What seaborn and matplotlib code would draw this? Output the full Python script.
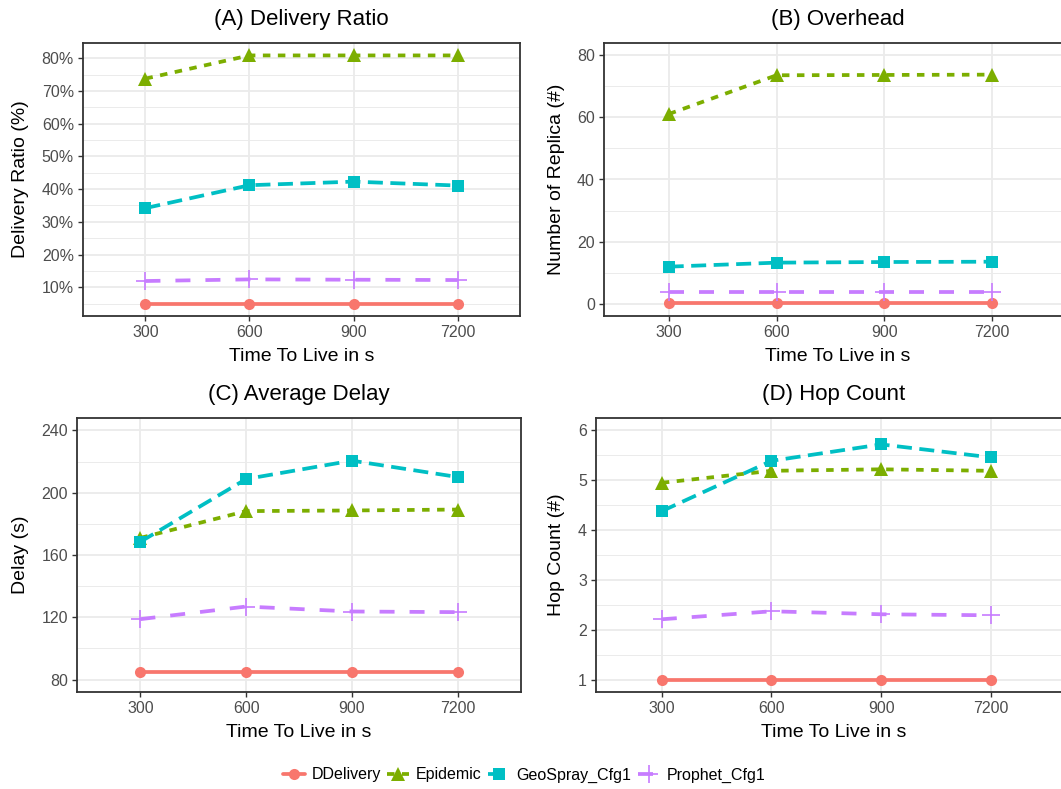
import numpy as np
import pandas as pd
import matplotlib
matplotlib.use("Agg")
import matplotlib.pyplot as plt
import seaborn as sns
from matplotlib.ticker import MultipleLocator, PercentFormatter

# values
TTL = ["300", "600", "900", "7200"]
PROTOCOLS = ["DDelivery", "Epidemic", "GeoSpray_Cfg1", "Prophet_Cfg1"]

delivery_ratio = {
    "DDelivery": [5.0, 5.0, 5.0, 5.0],
    "Epidemic": [73.8, 80.9, 80.9, 80.9],
    "GeoSpray_Cfg1": [34.2, 41.2, 42.3, 41.1],
    "Prophet_Cfg1": [11.9, 12.4, 12.3, 12.2],
}
overhead = {
    "DDelivery": [0.2, 0.2, 0.2, 0.2],
    "Epidemic": [61.1, 73.6, 73.7, 73.8],
    "GeoSpray_Cfg1": [11.9, 13.2, 13.4, 13.5],
    "Prophet_Cfg1": [3.8, 3.8, 3.8, 3.8],
}
avg_delay = {
    "DDelivery": [84.8, 84.8, 84.8, 84.8],
    "Epidemic": [171.0, 188.2, 188.6, 189.2],
    "GeoSpray_Cfg1": [168.5, 208.8, 220.6, 210.1],
    "Prophet_Cfg1": [118.8, 126.9, 123.7, 123.3],
}
hop_count = {
    "DDelivery": [1.0, 1.0, 1.0, 1.0],
    "Epidemic": [4.95, 5.19, 5.22, 5.19],
    "GeoSpray_Cfg1": [4.38, 5.39, 5.72, 5.46],
    "Prophet_Cfg1": [2.21, 2.37, 2.31, 2.29],
}

COLORS = {"DDelivery": "#F8766D", "Epidemic": "#7CAE00",
          "GeoSpray_Cfg1": "#00BFC4", "Prophet_Cfg1": "#C77CFF"}
# seaborn refuses to mix filled and line-art markers, so Prophet gets "X"
# here and is switched to a thin "+" after drawing
MARKERS = {"DDelivery": "o", "Epidemic": "^",
           "GeoSpray_Cfg1": "s", "Prophet_Cfg1": "X"}
DASHES = {"DDelivery": "", "Epidemic": (2, 2),
          "GeoSpray_Cfg1": (4, 2), "Prophet_Cfg1": (4, 4)}
MSIZE = {"o": 8, "^": 10, "s": 9, "+": 12.5}


def to_long(values):
    rows = []
    for proto in PROTOCOLS:
        for i, v in enumerate(values[proto]):
            rows.append({"pos": i, "value": v, "Protocol": proto})
    return pd.DataFrame(rows)


def restyle(line):
    m = line.get_marker()
    if m == "X":
        m = "+"
        line.set_marker("+")
    if m in MSIZE:
        line.set_markersize(MSIZE[m])
        line.set_markeredgecolor(line.get_color())
        line.set_markerfacecolor(line.get_color())
        line.set_markeredgewidth(1.2 if m == "+" else 0)


sns.set_theme(style="ticks")
plt.rcParams["font.family"] = ["Liberation Sans", "DejaVu Sans"]

W, H = 1061, 789
fig = plt.figure(figsize=(W / 100, H / 100), dpi=100)


def px_axes(left, top, right, bottom):
    return fig.add_axes([left / W, 1 - bottom / H, (right - left) / W, (bottom - top) / H])


panels = [
    # data, title, ylabel, box(px), xmax, ylim, major, minor
    (delivery_ratio, "(A) Delivery Ratio", "Delivery Ratio (%)", (83, 43, 520, 316), 3.6, (1.2, 84.7), 10, 5),
    (overhead, "(B) Overhead", "Number of Replica (#)", (604, 43, 1072, 316), 3.74, (-4, 84), 20, 10),
    (avg_delay, "(C) Average Delay", "Delay (s)", (77, 418, 521, 692), 3.6, (72, 248), 40, 20),
    (hop_count, "(D) Hop Count", "Hop Count (#)", (596, 418, 1072, 692), 3.74, (0.75, 6.25), 1, 0.5),
]

handles, labels = None, None
for k, (data, title, ylabel, box, xmax, ylim, major, minor) in enumerate(panels):
    ax = px_axes(*box)
    df = to_long(data)
    sns.lineplot(data=df, x="pos", y="value", hue="Protocol", style="Protocol",
                 hue_order=PROTOCOLS, style_order=PROTOCOLS, palette=COLORS,
                 markers=MARKERS, dashes=DASHES, linewidth=2.7, ax=ax,
                 legend=(k == 0))
    for line in ax.lines:
        restyle(line)
    if k == 0:
        handles, labels = ax.get_legend_handles_labels()
        for h in handles:
            restyle(h)
        ax.get_legend().remove()

    ax.set_xlim(-0.6, xmax)
    ax.set_ylim(*ylim)
    ax.set_xticks(range(len(TTL)))
    ax.set_xticklabels(TTL)
    ax.yaxis.set_major_locator(MultipleLocator(major))
    ax.yaxis.set_minor_locator(MultipleLocator(minor))
    if k == 0:
        ax.yaxis.set_major_formatter(PercentFormatter(decimals=0))
    ax.grid(which="major", color="#EBEBEB", linewidth=1.3, zorder=0)
    ax.grid(which="minor", axis="y", color="#EBEBEB", linewidth=0.7, zorder=0)
    ax.set_axisbelow(True)
    for sp in ax.spines.values():
        sp.set_color("#333333")
        sp.set_linewidth(1.3)
    ax.tick_params(which="major", length=3.5, width=1.0, color="#333333",
                   labelsize=11.5, labelcolor="#4D4D4D", pad=3)
    ax.tick_params(which="minor", length=0)
    ax.set_title(title, fontsize=16, pad=13, color="black")
    ax.set_xlabel("Time To Live in s", fontsize=14, labelpad=6, color="black")
    ax.set_ylabel(ylabel, fontsize=14, labelpad=9, color="black")

fig.legend(handles, labels, loc="center", bbox_to_anchor=(524 / W, 1 - 775 / H),
           ncol=4, frameon=False, fontsize=11.5, handlelength=1.4,
           columnspacing=0.4, handletextpad=0.4)
for t in fig.legends[0].get_texts():
    t.set_color("black")

fig.savefig("out.png", dpi=100, facecolor="white")
